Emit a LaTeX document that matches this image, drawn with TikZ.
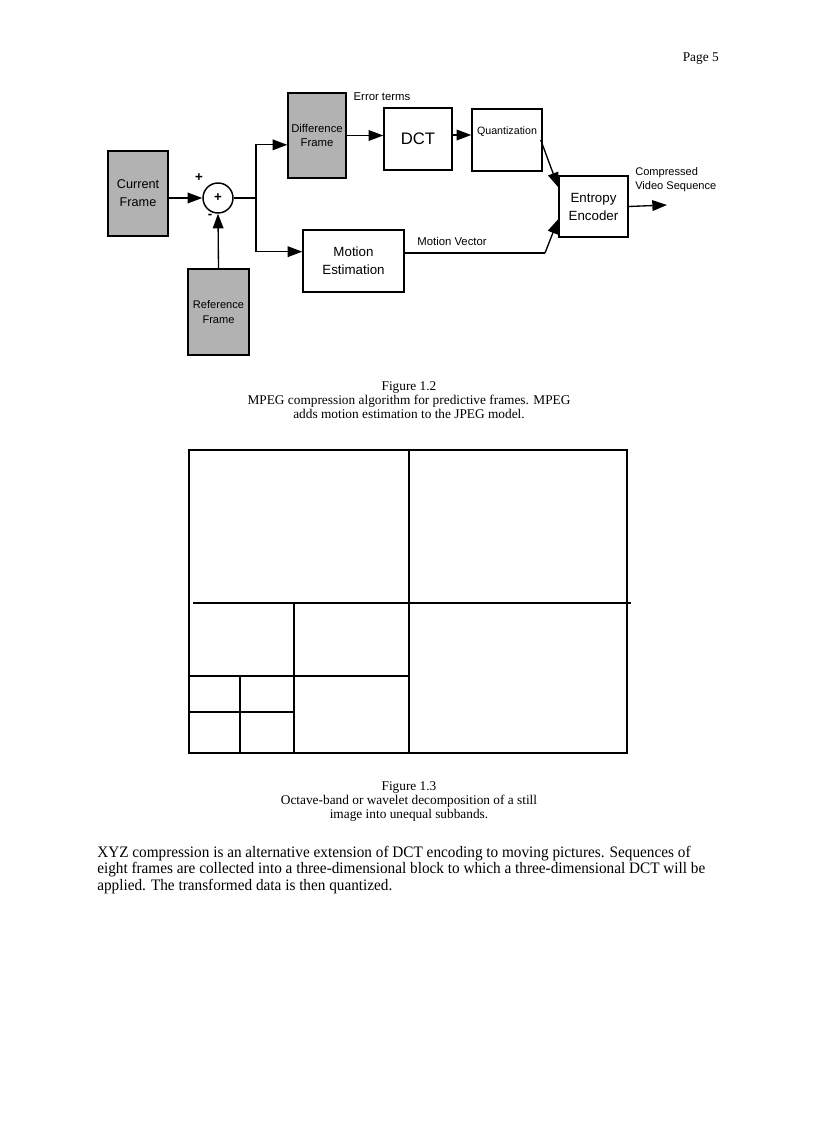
\documentclass[tikz,border=0pt]{standalone}
\usepackage{fontspec}
\setmainfont{Liberation Serif}
\newfontfamily\hv{Liberation Sans}
\newfontfamily\bodyfont{Liberation Serif}[FakeStretch=0.953]
\usetikzlibrary{arrows.meta,calc}
\begin{document}
\begin{tikzpicture}[x=0.75pt,y=-0.75pt,
  blk/.style={draw=black,line width=1.1pt,inner sep=0pt,align=center,font=\hv\fontsize{9}{11}\selectfont},
  shadebox/.style={blk,fill=black!30},
  arr/.style={line width=1pt,-{Triangle[length=11pt,width=8pt]}},
  plainline/.style={line width=1pt},
  lbl/.style={inner sep=0pt,font=\hv\fontsize{8.3}{10}\selectfont},
  captext/.style={inner sep=0pt,anchor=base,font=\fontsize{10}{11}\selectfont},
  bodytext/.style={inner sep=0pt,anchor=base west,font=\bodyfont\fontsize{12}{14}\selectfont},
  wv/.style={line width=1.3pt}]
\useasboundingbox (0,0) rectangle (816,1123);
\node[captext,anchor=base east] (page) at (719,62) {Page 5};
% ---------- Figure 1.2 ----------
\node[shadebox,minimum width=45pt,minimum height=63.75pt,font=\hv\fontsize{9.5}{13.5}\selectfont] (cur) at (138,193.5) {Current\\Frame};
\node[shadebox,minimum width=43.5pt,minimum height=63.75pt,font=\hv\fontsize{8.5}{11}\selectfont] (diff) at (317,135.5) {Difference\\Frame};
\node[shadebox,minimum width=45.75pt,minimum height=64.5pt,font=\hv\fontsize{8.3}{11}\selectfont] (ref) at (218.5,312) {Reference\\Frame};
\node[blk,minimum width=75.75pt,minimum height=46.5pt,font=\hv\fontsize{10}{13.5}\selectfont] (me) at (353.5,261) {Motion\\Estimation};
\node[blk,minimum width=51pt,minimum height=46.5pt,font=\hv\fontsize{12.5}{14}\selectfont] (dct) at (418,139) {DCT};
\node[blk,minimum width=52.5pt,minimum height=46.5pt] (quant) at (507,140) {};
\node[lbl,font=\hv\fontsize{8}{10}\selectfont] (qtxt) at (507,132) {Quantization};
\node[blk,minimum width=51.75pt,minimum height=45.75pt,font=\hv\fontsize{10}{13.5}\selectfont] (ent) at (593.5,206.5) {Entropy\\Encoder};
\node[draw=black,line width=1.1pt,circle,minimum size=22.5pt,inner sep=0pt,font=\hv\bfseries\fontsize{10}{10}\selectfont] (sum) at (218,198) {+};
\node[lbl,font=\hv\bfseries\fontsize{10}{10}\selectfont] (plus) at (199,178) {+};
\node[lbl,font=\hv\bfseries\fontsize{10}{10}\selectfont] (minus) at (210,216) {-};
\node[lbl,font=\hv\fontsize{8.5}{10}\selectfont] (err) at (382,97) {Error terms};
\node[lbl,font=\hv\fontsize{8.5}{10}\selectfont] (mvl) at (452,241) {Motion Vector};
\node[lbl,anchor=west,align=left,font=\hv\fontsize{8.3}{10.5}\selectfont] (cvs) at (635,180) {Compressed\\Video Sequence};
\coordinate (sp) at (256,198);
\coordinate (mv) at (545,253);
\coordinate (out) at (667,205);
\draw[arr] (cur.east |- sum.west) -- (sum.west);
\draw[plainline] (sum.east) -- (sp);
\draw[arr] (sp) |- ([yshift=-7pt]diff.west);
\draw[arr] (sp) |- ([yshift=7pt]me.west);
\draw[arr] (ref.north) -- (sum.south);
\draw[arr] (diff.east) -- (diff.east -| dct.west);
\draw[arr] ([yshift=3pt]dct.east) -- ([yshift=3pt]dct.east -| quant.west);
\draw[arr] ([xshift=-1.5pt]quant.east) -- ([yshift=-9pt]ent.north west);
\draw[plainline] ([yshift=6pt]me.east) -- (mv);
\draw[arr] (mv) -- ([yshift=14pt]ent.south west);
\draw[arr] (ent.east) -- (out);
\node[captext] (c1a) at (409,390) {Figure 1.2};
\node[captext] (c1b) at (409,404) {MPEG compression algorithm for predictive frames. MPEG};
\node[captext] (c1c) at (409,418) {adds motion estimation to the JPEG model.};
% ---------- Figure 1.3 ----------
\coordinate (A) at (189,450);
\coordinate (B) at (627,753);
\draw[wv,line width=1.6pt] (A) rectangle (B);
\draw[wv] (409,450) -- (409,753);
\draw[wv] (193,603) -- (631,603);
\draw[wv] (294,603) -- (294,753);
\draw[wv] (189,676) -- (409,676);
\draw[wv] (240,676) -- (240,753);
\draw[wv] (189,712) -- (294,712);
\node[captext] (c2a) at (409,790) {Figure 1.3};
\node[captext] (c2b) at (409,804) {Octave-band or wavelet decomposition of a still};
\node[captext] (c2c) at (409,818) {image into unequal subbands.};
% ---------- body ----------
\node[bodytext] (t1) at (97,857) {XYZ compression is an alternative extension of DCT encoding to moving pictures. Sequences of};
\node[bodytext] (t2) at (97,873.5) {eight frames are collected into a three-dimensional block to which a three-dimensional DCT will be};
\node[bodytext] (t3) at (97,890) {applied. The transformed data is then quantized.};
\end{tikzpicture}
\end{document}
